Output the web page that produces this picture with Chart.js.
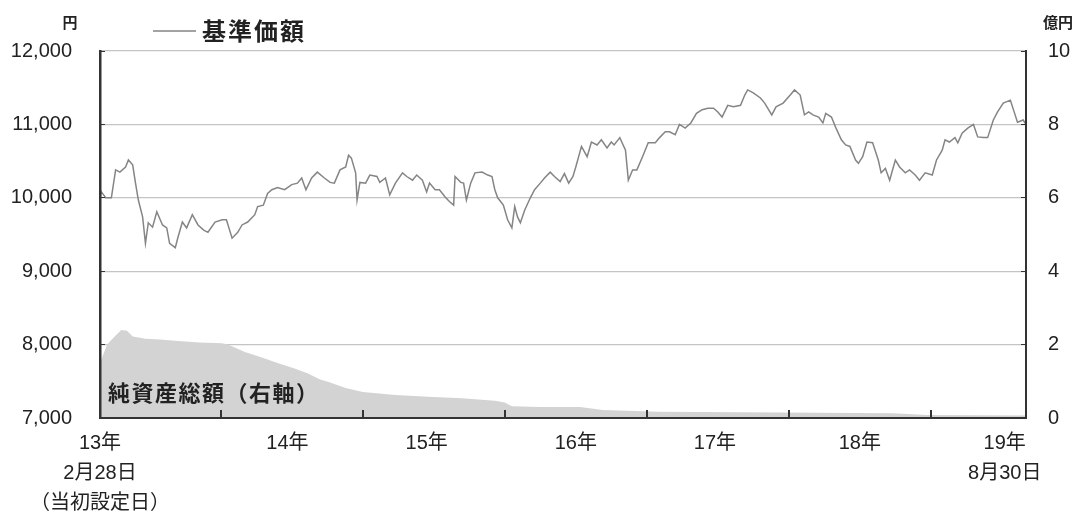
<!DOCTYPE html>
<html lang="ja">
<head>
<meta charset="utf-8">
<script src="https://cdn.jsdelivr.net/npm/chart.js@4.4.1/dist/chart.umd.min.js"></script>
<style>
  html, body { margin: 0; padding: 0; background: #fff; }
  #wrap { width: 1079px; height: 515px; }
</style>
</head>
<body>
<div id="wrap"><canvas id="navChart"></canvas></div>
<script>
// 基準価額 (円) : 日付は年の小数表記
const navDates = [
  2013.15, 2013.16, 2013.19, 2013.23, 2013.26, 2013.29, 2013.33, 2013.35, 2013.38, 2013.40,
  2013.42, 2013.45, 2013.47, 2013.49, 2013.52, 2013.55, 2013.59, 2013.62, 2013.64, 2013.68,
  2013.70, 2013.73, 2013.76, 2013.80, 2013.84, 2013.88, 2013.91, 2013.96, 2014.01, 2014.04,
  2014.08, 2014.12, 2014.15, 2014.19, 2014.24, 2014.26, 2014.30, 2014.33, 2014.36, 2014.40,
  2014.45, 2014.50, 2014.54, 2014.57, 2014.60, 2014.64, 2014.68, 2014.73, 2014.77, 2014.80,
  2014.84, 2014.88, 2014.90, 2014.92, 2014.95, 2014.96, 2014.98, 2015.02, 2015.05, 2015.10,
  2015.12, 2015.16, 2015.19, 2015.23, 2015.28, 2015.31, 2015.35, 2015.38, 2015.42, 2015.45,
  2015.47, 2015.51, 2015.54, 2015.58, 2015.61, 2015.64, 2015.65, 2015.69, 2015.71, 2015.73,
  2015.76, 2015.79, 2015.84, 2015.88, 2015.91, 2015.93, 2015.95, 2015.99, 2016.02, 2016.05,
  2016.07, 2016.09, 2016.11, 2016.14, 2016.18, 2016.21, 2016.25, 2016.28, 2016.32, 2016.35,
  2016.39, 2016.42, 2016.45, 2016.48, 2016.50, 2016.54, 2016.58, 2016.61, 2016.65, 2016.68,
  2016.72, 2016.75, 2016.77, 2016.81, 2016.85, 2016.87, 2016.90, 2016.93, 2016.97, 2017.01,
  2017.06, 2017.09, 2017.13, 2017.16, 2017.20, 2017.23, 2017.27, 2017.31, 2017.35, 2017.39,
  2017.43, 2017.47, 2017.50, 2017.53, 2017.57, 2017.61, 2017.66, 2017.69, 2017.71, 2017.75,
  2017.80, 2017.83, 2017.88, 2017.91, 2017.96, 2018.01, 2018.04, 2018.08, 2018.11, 2018.14,
  2018.17, 2018.21, 2018.24, 2018.26, 2018.30, 2018.33, 2018.37, 2018.40, 2018.43, 2018.47,
  2018.49, 2018.52, 2018.55, 2018.59, 2018.63, 2018.65, 2018.68, 2018.71, 2018.75, 2018.78,
  2018.82, 2018.85, 2018.89, 2018.92, 2018.96, 2019.01, 2019.04, 2019.08, 2019.10, 2019.13,
  2019.17, 2019.19, 2019.22, 2019.26, 2019.30, 2019.33, 2019.37, 2019.40, 2019.44, 2019.47,
  2019.51, 2019.56, 2019.59, 2019.61, 2019.65, 2019.67
];
const navValues = [
  10000, 10080, 10000, 10000, 10380, 10350, 10420, 10515, 10450, 10200,
  9970, 9740, 9380, 9660, 9600, 9810, 9630, 9590, 9380, 9320,
  9470, 9670, 9590, 9770, 9630, 9560, 9530, 9670, 9700, 9700,
  9450, 9530, 9630, 9670, 9770, 9880, 9900, 10060, 10110, 10140,
  10110, 10180, 10200, 10270, 10110, 10270, 10350, 10270, 10210, 10200,
  10380, 10420, 10580, 10540, 10340, 9970, 10210, 10200, 10310, 10290,
  10210, 10270, 10040, 10200, 10340, 10290, 10240, 10310, 10240, 10080,
  10200, 10110, 10110, 10010, 9950, 9900, 10290, 10210, 10200, 9970,
  10200, 10340, 10350, 10310, 10290, 10110, 10000, 9900, 9700, 9590,
  9880, 9740, 9660, 9830, 10000, 10110, 10200, 10270, 10350, 10290,
  10220, 10330, 10200, 10290, 10420, 10700, 10560, 10760, 10720, 10790,
  10680, 10760, 10720, 10820, 10650, 10240, 10380, 10380, 10560, 10750,
  10750, 10820, 10900, 10900, 10860, 11000, 10950, 11020, 11150, 11200,
  11220, 11220, 11170, 11100, 11260, 11240, 11260, 11400, 11470, 11430,
  11360, 11290, 11130, 11240, 11290, 11400, 11470, 11400, 11130, 11170,
  11130, 11100, 11020, 11150, 11100, 10960, 10790, 10720, 10700, 10515,
  10470, 10560, 10760, 10750, 10515, 10340, 10400, 10240, 10515, 10420,
  10340, 10380, 10310, 10240, 10340, 10310, 10515, 10650, 10790, 10760,
  10820, 10750, 10880, 10950, 11000, 10830, 10820, 10820, 11060, 11170,
  11290, 11330, 11150, 11030, 11060, 11000
];

// 純資産総額 (億円)
const assetDates = [
  2013.15, 2013.17, 2013.20, 2013.26, 2013.30, 2013.34, 2013.38, 2013.47, 2013.57, 2013.70,
  2013.85, 2014.01, 2014.05, 2014.17, 2014.29, 2014.40, 2014.52, 2014.61, 2014.70, 2014.76,
  2014.88, 2015.00, 2015.23, 2015.46, 2015.70, 2015.93, 2016.00, 2016.05, 2016.25, 2016.53,
  2016.69, 2017.09, 2017.94, 2018.73, 2018.97, 2019.67
];
const assetValues = [
  1.5, 1.7, 2.0, 2.25, 2.4, 2.38, 2.22, 2.16, 2.14, 2.1,
  2.06, 2.04, 2.0, 1.8, 1.65, 1.5, 1.35, 1.22, 1.05, 0.98,
  0.82, 0.71, 0.63, 0.58, 0.54, 0.47, 0.42, 0.32, 0.3, 0.3,
  0.22, 0.17, 0.15, 0.13, 0.08, 0.07
];

const startDate = 2013.15;
const endDate = 2019.67;
const yearTicks = [2014, 2015, 2016, 2017, 2018, 2019];
const labelPositions = [2013.15, 2014.47, 2015.45, 2016.5, 2017.48, 2018.5, 2019.52];
const labelTexts = [
  ['13年', '2月28日', '（当初設定日）'],
  ['14年'], ['15年'], ['16年'], ['17年'], ['18年'],
  ['19年', '8月30日']
];

const lineColor = '#858585';
const areaColor = '#d3d3d3';
const textColor = '#222';
const numFont = '"Liberation Sans", "Noto Sans CJK JP", sans-serif';
const jpFont = '"Noto Sans CJK JP", sans-serif';

// 単位や凡例の文字
const chartNotes = {
  id: 'chartNotes',
  afterDraw(chart) {
    const { ctx, chartArea: a } = chart;
    ctx.save();
    ctx.fillStyle = textColor;
    ctx.textBaseline = 'middle';
    ctx.textAlign = 'center';
    ctx.font = 'bold 15px ' + jpFont;
    ctx.fillText('円', a.left - 30, 22);
    ctx.fillText('億円', a.right + 32, 22);

    ctx.strokeStyle = lineColor;
    ctx.lineWidth = 1.5;
    ctx.beginPath();
    ctx.moveTo(a.left + 53, 31);
    ctx.lineTo(a.left + 96, 31);
    ctx.stroke();

    ctx.textAlign = 'left';
    ctx.font = 'bold 24px ' + jpFont;
    ctx.letterSpacing = '2px';
    ctx.fillText('基準価額', a.left + 102, 31);
    ctx.font = 'bold 22px ' + jpFont;
    ctx.letterSpacing = '1.5px';
    ctx.fillText('純資産総額（右軸）', a.left + 8, 393);
    ctx.restore();
  }
};

const ctx = document.getElementById('navChart').getContext('2d');
new Chart(ctx, {
  type: 'line',
  data: {
    datasets: [{
      label: '基準価額',
      data: navDates.map((d, i) => ({ x: d, y: navValues[i] })),
      borderColor: lineColor,
      borderWidth: 1.5,
      pointRadius: 0,
      tension: 0,
      fill: false,
      xAxisID: 'x',
      yAxisID: 'y',
      order: 1
    }, {
      label: '純資産総額（右軸）',
      data: assetDates.map((d, i) => ({ x: d, y: assetValues[i] })),
      borderWidth: 0,
      borderColor: areaColor,
      backgroundColor: areaColor,
      pointRadius: 0,
      tension: 0,
      fill: 'origin',
      xAxisID: 'x',
      yAxisID: 'y2',
      order: 2
    }]
  },
  options: {
    responsive: true,
    maintainAspectRatio: false,
    animation: false,
    layout: { padding: { top: 51, left: 0, right: 0, bottom: 0 } },
    plugins: {
      legend: { display: false },
      tooltip: { enabled: false }
    },
    scales: {
      x: {
        type: 'linear',
        bounds: 'data',
        min: startDate,
        max: endDate,
        weight: 0,
        afterBuildTicks: axis => { axis.ticks = yearTicks.map(v => ({ value: v })); },
        afterFit: axis => { axis.height = 0; },
        ticks: { display: false },
        grid: {
          z: 1,
          drawOnChartArea: false,
          tickLength: -8,
          tickColor: '#333',
          lineWidth: 2
        },
        border: { z: 1, color: '#333', width: 2 }
      },
      xLabels: {
        type: 'linear',
        position: 'bottom',
        bounds: 'data',
        min: startDate,
        max: endDate,
        weight: 1,
        afterBuildTicks: axis => { axis.ticks = labelPositions.map(v => ({ value: v })); },
        afterFit: axis => { axis.height = 97; },
        grid: { display: false },
        border: { display: false },
        ticks: {
          autoSkip: false,
          maxRotation: 0,
          padding: 2,
          color: textColor,
          font: { family: numFont, size: 20, lineHeight: 1.5 },
          callback: (value, index) => labelTexts[index]
        }
      },
      y: {
        position: 'left',
        min: 7000,
        max: 12000,
        weight: 1,
        afterFit: axis => { axis.width = 100; },
        ticks: {
          stepSize: 1000,
          padding: 28,
          color: textColor,
          font: { family: numFont, size: 20 },
          callback: v => v.toLocaleString('en-US')
        },
        grid: {
          color: '#c4c4c4',
          lineWidth: 1.2,
          drawTicks: false
        },
        border: { display: false }
      },
      yEdge: {
        position: 'left',
        min: 7000,
        max: 12000,
        weight: 0,
        afterFit: axis => { axis.width = 0; },
        ticks: { display: false, stepSize: 1000 },
        grid: {
          z: 1,
          drawOnChartArea: false,
          tickLength: -5,
          tickColor: '#333'
        },
        border: { z: 1, color: '#333', width: 2.5 }
      },
      y2: {
        position: 'right',
        min: 0,
        max: 10,
        afterFit: axis => { axis.width = 53; },
        ticks: {
          stepSize: 2,
          padding: 27,
          color: textColor,
          font: { family: numFont, size: 20 }
        },
        grid: {
          z: 1,
          drawOnChartArea: false,
          tickLength: -5,
          tickColor: '#333'
        },
        border: { z: 1, color: '#333', width: 2 }
      }
    }
  },
  plugins: [chartNotes]
});
</script>
</body>
</html>
